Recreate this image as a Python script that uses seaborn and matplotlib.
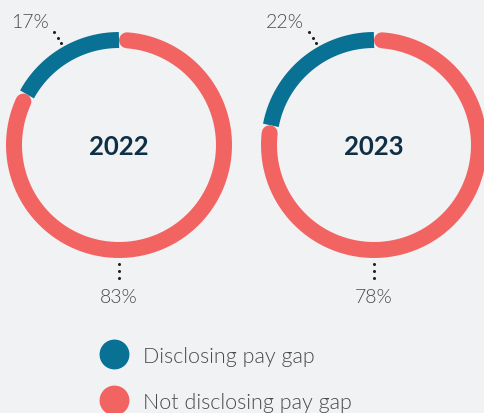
import numpy as np
import seaborn as sns
import matplotlib.pyplot as plt
from matplotlib.lines import Line2D

#_____ data
years = ['2022', '2023']
disclosing = [17, 22]
not_disclosing = [83, 78]
series_labels = ['Disclosing pay gap', 'Not disclosing pay gap']

#_____ style
bg = '#f1f2f4'
teal = '#087194'
coral = '#f16462'
txt_grey = '#4a4a4a'
navy = '#0f2f45'

sns.set_style('white', {'axes.facecolor': bg, 'figure.facecolor': bg})
plt.rcParams['font.family'] = ['Lato', 'DejaVu Sans']

fig = plt.figure(figsize=(4.84, 4.14), dpi=100)
ax = fig.add_axes([0, 0, 1, 1])
ax.set_xlim(0, 484)
ax.set_ylim(414, 0)
ax.set_aspect('equal')
ax.axis('off')

# layout (pixels)
centers = [119, 374]
cy = 146
r = 105
ring_px = 16
lw = ring_px * 72 / 100
cap = np.degrees((ring_px / 2) / r)
lead_ang = np.radians(119.7)


def arc(cx, a0, a1, color, capstyle):
    t = np.radians(np.linspace(a0, a1, 300))
    ax.plot(cx + r * np.cos(t), cy - r * np.sin(t), color=color, lw=lw,
            solid_capstyle=capstyle)


for cx, year, d, nd in zip(centers, years, disclosing, not_disclosing):
    tot = d + nd
    end = 90 + d / tot * 360
    # disclosing share, counter-clockwise from top
    arc(cx, 90, end, teal, 'butt')
    # not disclosing share, clockwise from top, rounded ends
    arc(cx, 90 - cap, end - 360 + cap, coral, 'round')

    ax.text(cx, cy + 1, year, ha='center', va='center', fontsize=18.5,
            fontweight='bold', color=navy)

    # leader dots + labels
    rr = np.array([117, 123.7, 130.4])
    ax.plot(cx + rr * np.cos(lead_ang), cy - rr * np.sin(lead_ang), ls='none',
            marker='o', ms=1.2, color='#222222')
    ax.text(cx + 141 * np.cos(lead_ang), cy - 141 * np.sin(lead_ang) - 1,
            f'{d}%', ha='right', va='center', fontsize=14, fontweight=300,
            color=txt_grey)

    rb = np.array([119, 126, 133])
    ax.plot(np.full(3, cx), cy + rb, ls='none', marker='o', ms=1.2,
            color='#222222')
    ax.text(cx, cy + 152, f'{nd}%', ha='center', va='center', fontsize=14,
            fontweight=300, color=txt_grey)

#_____ legend
handles = [Line2D([], [], ls='none', marker='o', ms=20.5, color=c)
           for c in [teal, coral]]
leg = fig.legend(handles, series_labels, loc='upper left',
                 bbox_to_anchor=(88 / 484, 1 - 336 / 414), frameon=False,
                 fontsize=15.5, labelspacing=1.21, handletextpad=0.6,
                 borderpad=0, handlelength=1.45)
for t in leg.get_texts():
    t.set_color(txt_grey)
    t.set_fontweight(300)

fig.savefig('out.png', dpi=100, facecolor=bg)
